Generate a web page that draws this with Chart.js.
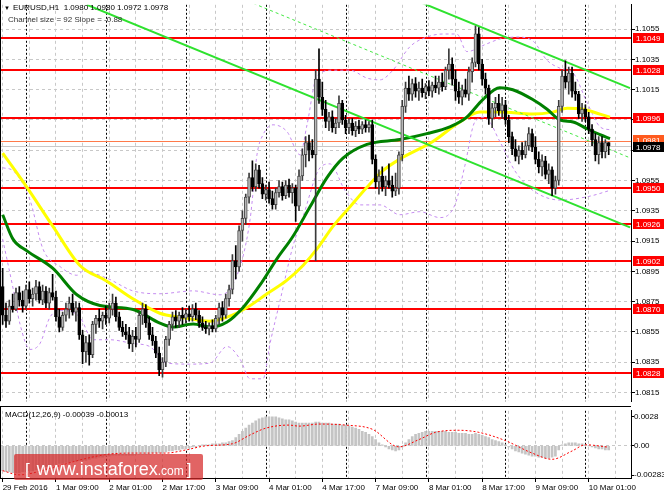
<!DOCTYPE html>
<html>
<head>
<meta charset="utf-8">
<title>EURUSD H1</title>
<script src="https://cdn.jsdelivr.net/npm/chart.js@4.4.1/dist/chart.umd.min.js"></script>
<style>
  html, body { margin: 0; padding: 0; background: #fff; }
  body { width: 664px; height: 498px; position: relative; overflow: hidden; }
  #main { position: absolute; left: 0; top: 0; }
  #macd { position: absolute; left: 0; top: 406px; }
  #wm {
    position: absolute; left: 14px; top: 454px; width: 189px; height: 26px;
    background: rgba(214, 40, 40, 0.72); border-radius: 2px;
    color: #fff; font-family: 'Liberation Sans', Arial, sans-serif;
    white-space: nowrap; line-height: 31px; padding-left: 11px; box-sizing: border-box;
  }
  #wm .br { font-size: 17px; }
  #wm .url { font-size: 18px; margin-left: 7px; }
  #wm .dom { font-size: 12px; }
  #wm .br2 { font-size: 17px; margin-left: 3px; }
</style>
</head>
<body>
<canvas id="main" width="664" height="406"></canvas>
<canvas id="macd" width="664" height="92"></canvas>
<div id="wm"><span class="br">[</span><span class="url">www.instaforex</span><span class="dom">.com</span><span class="br2">]</span></div>

<script>
// EURUSD H1 with MAs, bands, channel and MACD panel

// ---- data ----
const opens = [
  1.0885,1.0866,1.0862,1.0872,1.0870,1.0881,1.0876,1.0872,1.0883,1.0877,
  1.0880,1.0885,1.0876,1.0882,1.0874,1.0881,1.0878,1.0865,1.0858,1.0866,
  1.0870,1.0874,1.0868,1.0871,1.0853,1.0842,1.0848,1.0840,1.0860,1.0864,
  1.0862,1.0866,1.0864,1.0870,1.0874,1.0865,1.0858,1.0855,1.0853,1.0847,
  1.0852,1.0850,1.0866,1.0870,1.0861,1.0853,1.0849,1.0841,1.0830,1.0835,
  1.0850,1.0860,1.0865,1.0862,1.0866,1.0864,1.0867,1.0865,1.0870,1.0866,
  1.0861,1.0858,1.0857,1.0859,1.0857,1.0864,1.0871,1.0866,1.0877,1.0883,
  1.0902,1.0898,1.0922,1.0930,1.0944,1.0957,1.0951,1.0962,1.0953,1.0946,
  1.0949,1.0943,1.0939,1.0947,1.0951,1.0945,1.0952,1.0947,1.0950,1.0938,
  1.0958,1.0972,1.0980,1.0975,1.0972,1.1022,1.1010,1.1002,1.0994,1.0997,
  1.0990,1.0993,1.1006,1.0995,1.0990,1.0993,1.0988,1.0991,1.0989,1.0992,
  1.0990,1.0992,1.0969,1.0954,1.0958,1.0951,1.0955,1.0952,1.0948,1.0950,
  1.0972,1.1004,1.1016,1.1012,1.1019,1.1014,1.1016,1.1013,1.1017,1.1014,
  1.1018,1.1016,1.1020,1.1017,1.1028,1.1032,1.1022,1.1014,1.1010,1.1015,
  1.1012,1.1027,1.1033,1.1052,1.1032,1.1022,1.1016,1.0996,1.1003,1.1006,
  1.1001,1.1005,1.0995,1.0984,1.0976,1.0971,1.0975,1.0972,1.0978,1.0986,
  1.0977,1.0969,1.0964,1.0968,1.0959,1.0962,1.0950,1.0955,1.1004,1.1024,
  1.1020,1.1026,1.1014,1.1012,1.0999,1.1002,1.0997,1.0989,1.0982,1.0972,
  1.0980,1.0974,1.0980
];
const highs = [
  1.0897,1.0874,1.0876,1.0880,1.0884,1.0885,1.0882,1.0886,1.0888,1.0884,
  1.0889,1.0888,1.0886,1.0885,1.0884,1.0893,1.0882,1.0870,1.0868,1.0874,
  1.0878,1.0880,1.0875,1.0874,1.0856,1.0852,1.0853,1.0862,1.0866,1.0870,
  1.0868,1.0872,1.0874,1.0880,1.0878,1.0868,1.0862,1.0860,1.0858,1.0856,
  1.0858,1.0868,1.0874,1.0873,1.0865,1.0858,1.0852,1.0845,1.0838,1.0852,
  1.0862,1.0868,1.0869,1.0868,1.0871,1.0870,1.0872,1.0873,1.0874,1.0869,
  1.0865,1.0862,1.0861,1.0863,1.0866,1.0874,1.0875,1.0880,1.0886,1.0906,
  1.0912,1.0925,1.0935,1.0946,1.0960,1.0968,1.0966,1.0965,1.0957,1.0952,
  1.0954,1.0948,1.0950,1.0955,1.0954,1.0955,1.0956,1.0953,1.0952,1.0962,
  1.0976,1.0984,1.0985,1.0982,1.1028,1.1042,1.1020,1.1008,1.1000,1.1001,
  1.0996,1.1011,1.1008,1.0998,1.0996,1.0996,1.0994,1.0995,1.0994,1.0995,
  1.0994,1.0995,1.0972,1.0962,1.0964,1.0958,1.0966,1.0958,1.0960,1.0974,
  1.1008,1.1020,1.1024,1.1022,1.1023,1.1020,1.1022,1.1019,1.1021,1.1020,
  1.1024,1.1024,1.1026,1.1030,1.1042,1.1036,1.1028,1.1020,1.1018,1.1022,
  1.1030,1.1036,1.1057,1.1056,1.1035,1.1026,1.1018,1.1006,1.1010,1.1012,
  1.1010,1.1008,1.0998,1.0987,1.0982,1.0978,1.0980,1.0981,1.0990,1.0989,
  1.0984,1.0974,1.0972,1.0971,1.0966,1.0964,1.0958,1.1008,1.1028,1.1034,
  1.1030,1.1030,1.1020,1.1014,1.1006,1.1005,1.1000,1.0992,1.0986,1.0984,
  1.0984,1.0982,1.0980
];
const lows = [
  1.0860,1.0858,1.0860,1.0868,1.0869,1.0872,1.0868,1.0870,1.0874,1.0872,
  1.0876,1.0874,1.0873,1.0871,1.0870,1.0876,1.0862,1.0855,1.0856,1.0862,
  1.0864,1.0866,1.0862,1.0850,1.0834,1.0835,1.0833,1.0838,1.0854,1.0858,
  1.0857,1.0860,1.0861,1.0866,1.0862,1.0856,1.0852,1.0850,1.0844,1.0842,
  1.0845,1.0848,1.0860,1.0858,1.0850,1.0846,1.0838,1.0826,1.0825,1.0832,
  1.0846,1.0856,1.0858,1.0858,1.0860,1.0861,1.0862,1.0862,1.0863,1.0858,
  1.0856,1.0854,1.0853,1.0855,1.0855,1.0860,1.0862,1.0864,1.0872,1.0880,
  1.0890,1.0895,1.0915,1.0926,1.0940,1.0948,1.0948,1.0950,1.0943,1.0942,
  1.0940,1.0936,1.0936,1.0944,1.0942,1.0943,1.0944,1.0940,1.0928,1.0935,
  1.0955,1.0964,1.0968,1.0970,1.0902,1.1006,1.0998,1.0990,1.0988,1.0987,
  1.0986,1.0990,1.0992,1.0986,1.0986,1.0985,1.0984,1.0986,1.0986,1.0987,
  1.0987,1.0966,1.0950,1.0946,1.0948,1.0945,1.0950,1.0944,1.0945,1.0946,
  1.0968,1.1000,1.1008,1.1008,1.1010,1.1008,1.1010,1.1009,1.1011,1.1010,
  1.1013,1.1012,1.1014,1.1015,1.1022,1.1018,1.1008,1.1006,1.1005,1.1010,
  1.1008,1.1020,1.1030,1.1028,1.1018,1.1012,1.0992,1.0990,1.0997,1.0998,
  1.0996,1.0992,1.0980,1.0972,1.0968,1.0966,1.0969,1.0970,1.0975,1.0974,
  1.0966,1.0960,1.0958,1.0956,1.0953,1.0945,1.0946,1.0952,1.1000,1.1016,
  1.1012,1.1010,1.1008,1.0996,1.0994,1.0994,1.0986,1.0978,1.0968,1.0966,
  1.0970,1.0970,1.0972
];
const closes = [
  1.0866,1.0862,1.0872,1.0870,1.0881,1.0876,1.0872,1.0883,1.0877,1.0880,
  1.0885,1.0876,1.0882,1.0874,1.0881,1.0878,1.0865,1.0858,1.0866,1.0870,
  1.0874,1.0868,1.0871,1.0853,1.0842,1.0848,1.0840,1.0860,1.0864,1.0862,
  1.0866,1.0864,1.0870,1.0874,1.0865,1.0858,1.0855,1.0853,1.0847,1.0852,
  1.0850,1.0866,1.0870,1.0861,1.0853,1.0849,1.0841,1.0830,1.0835,1.0850,
  1.0860,1.0865,1.0862,1.0866,1.0864,1.0867,1.0865,1.0870,1.0866,1.0861,
  1.0858,1.0857,1.0859,1.0857,1.0864,1.0871,1.0866,1.0877,1.0883,1.0902,
  1.0898,1.0922,1.0930,1.0944,1.0957,1.0951,1.0962,1.0953,1.0946,1.0949,
  1.0943,1.0939,1.0947,1.0951,1.0945,1.0952,1.0947,1.0950,1.0938,1.0958,
  1.0972,1.0980,1.0975,1.0972,1.1022,1.1010,1.1002,1.0994,1.0997,1.0990,
  1.0993,1.1006,1.0995,1.0990,1.0993,1.0988,1.0991,1.0989,1.0992,1.0990,
  1.0992,1.0969,1.0954,1.0958,1.0951,1.0955,1.0952,1.0948,1.0950,1.0972,
  1.1004,1.1016,1.1012,1.1019,1.1014,1.1016,1.1013,1.1017,1.1014,1.1018,
  1.1016,1.1020,1.1017,1.1028,1.1032,1.1022,1.1014,1.1010,1.1015,1.1012,
  1.1027,1.1033,1.1052,1.1032,1.1022,1.1016,1.0996,1.1003,1.1006,1.1001,
  1.1005,1.0995,1.0984,1.0976,1.0971,1.0975,1.0972,1.0978,1.0986,1.0977,
  1.0969,1.0964,1.0968,1.0959,1.0962,1.0950,1.0955,1.1004,1.1024,1.1020,
  1.1026,1.1014,1.1012,1.0999,1.1002,1.0997,1.0989,1.0982,1.0972,1.0980,
  1.0974,1.0980,1.0978
];

// moving averages / bands as [bar, price] read at intervals
const yellowMA = [[0,1.09731],[7.3,1.09505],[15.1,1.09247],[23.2,1.08989],[31.3,1.08885],[39.1,1.08769],
  [47.2,1.08673],[53.3,1.08647],[62.3,1.08621],[67.4,1.08647],[73.4,1.08711],[79.4,1.08802],[85.4,1.08892],
  [90.2,1.08989],[94.4,1.09098],[99.2,1.09247],[104.3,1.09376],[109.4,1.09505],[114.2,1.09615],[119.3,1.09692],
  [129.2,1.09808],[137.3,1.09937],[143.3,1.10002],[149.3,1.10002],[159.2,1.09989],[165.2,1.10002],
  [169.5,1.10027],[174.3,1.10021],[179.4,1.09989],[182.4,1.09969]];
const greenMA = [[0,1.09324],[3.1,1.09163],[7.3,1.09085],[15.1,1.08969],[22.3,1.08795],[29.2,1.08724],
  [39.2,1.08698],[47.2,1.08608],[51.2,1.08582],[57.2,1.08602],[62.3,1.08582],[67.4,1.08615],[72.2,1.08711],
  [77.3,1.08860],[82.4,1.09034],[87.2,1.09182],[92.3,1.09376],[97.4,1.09569],[102.2,1.09698],[109.4,1.09789],
  [119.3,1.09821],[127.4,1.09860],[134.3,1.09905],[139.4,1.09969],[144.2,1.10085],[149.3,1.10163],
  [153.2,1.10150],[159.2,1.10085],[163.5,1.10021],[167.4,1.09950],[171.3,1.09937],[175.5,1.09892],
  [179.4,1.09853],[182.4,1.09827]];
const bandUpper = [[0,1.09634],[3.1,1.09615],[8.2,1.09421],[12.1,1.09098],[17.2,1.08982],[22.3,1.08924],
  [24.1,1.08950],[31.3,1.08905],[39.1,1.08821],[47.2,1.08802],[57.2,1.08821],[65.3,1.08795],[70.4,1.08924],
  [74.3,1.09292],[76.4,1.09724],[78.2,1.09853],[81.2,1.09918],[85.4,1.09873],[89.3,1.09720],[91.4,1.09918],
  [94.4,1.10240],[99.2,1.10279],[104.3,1.10279],[109.4,1.10227],[113.3,1.10215],[117.2,1.10279],
  [122.3,1.10434],[127.4,1.10498],[132.2,1.10518],[136.4,1.10518],[139.4,1.10402],[145.4,1.10453],
  [149.3,1.10485],[154.4,1.10498],[159.2,1.10473],[163.5,1.10344],[167.4,1.10292],[171.3,1.10260],
  [175.5,1.10066],[179.4,1.09905],[182.4,1.09885]];
const bandLower = [[0,1.09163],[3.1,1.08840],[5.2,1.08602],[8.2,1.08434],[11.2,1.08473],[14.2,1.08647],
  [17.2,1.08692],[23.2,1.08647],[27.1,1.08498],[32.2,1.08498],[39.1,1.08473],[44.2,1.08453],[49.3,1.08344],
  [56.2,1.08337],[62.3,1.08344],[67.4,1.08453],[71.3,1.08369],[74.3,1.08240],[78.2,1.08240],[80.3,1.08473],
  [83.3,1.08756],[87.2,1.09118],[90.2,1.09311],[95.3,1.09634],[98.3,1.09660],[102.8,1.09485],[107.3,1.09389],
  [113.3,1.09389],[119.3,1.09324],[125.3,1.09344],[131.3,1.09305],[135.8,1.09389],[138.8,1.09647],
  [141.8,1.09937],[144.8,1.09969],[149.3,1.09808],[153.8,1.09615],[159.2,1.09485],[167.4,1.09421],
  [176.4,1.09447],[182.4,1.09485]];

// regression channel, start and end bar
const channelBars = [25.3, 188.4];
const channelUpper = [1.11631, 1.1016];
const channelMiddle = [1.11171, 1.0970];
const channelLower = [1.10711, 1.0924];

// horizontal levels and price marks
const levels = [1.1049, 1.1028, 1.0996, 1.0950, 1.0926, 1.0902, 1.0870, 1.0828];
const askPrice = 1.0981;
const bidPrice = 1.0978;
const priceTicks = [1.0815, 1.0835, 1.0855, 1.0875, 1.0895, 1.0915, 1.0935, 1.0955,
  1.0975, 1.0995, 1.1015, 1.1035, 1.1055];

// time axis: a label every 16 bars, day separators
const timeLabels = ['29 Feb 2016', '1 Mar 09:00', '2 Mar 01:00', '2 Mar 17:00', '3 Mar 09:00',
  '4 Mar 01:00', '4 Mar 17:00', '7 Mar 09:00', '8 Mar 01:00', '8 Mar 17:00', '9 Mar 09:00', '10 Mar 01:00'];
const daySeparators = [7, 31, 55, 79, 103, 127, 151, 175];

// MACD(12,26,9)
const macdHist = [
  -0.0024,-0.0025,-0.0025,-0.0026,-0.0026,-0.0026,-0.0025,-0.0025,-0.0024,-0.0024,
  -0.0023,-0.0022,-0.0021,-0.0020,-0.0019,-0.0019,-0.0018,-0.0017,-0.0017,-0.0016,
  -0.0016,-0.0015,-0.0015,-0.0014,-0.0014,-0.0014,-0.0013,-0.0012,-0.0012,-0.0011,
  -0.0011,-0.0010,-0.0010,-0.0009,-0.0009,-0.0009,-0.0009,-0.0009,-0.0009,-0.0009,
  -0.0008,-0.0008,-0.0008,-0.0008,-0.0008,-0.0007,-0.0007,-0.0007,-0.0007,-0.0006,
  -0.0005,-0.0005,-0.0004,-0.0004,-0.0003,-0.0003,-0.0002,-0.0001,-0.0001,0.0000,
  0.0001,0.0001,0.0001,0.0002,0.0002,0.0002,0.0003,0.0003,0.0004,0.0005,
  0.0008,0.0011,0.0014,0.0017,0.0020,0.0022,0.0024,0.0026,0.0027,0.0028,
  0.0028,0.0028,0.0028,0.0027,0.0026,0.0025,0.0025,0.0024,0.0023,0.0022,
  0.0022,0.0022,0.0022,0.0022,0.0023,0.0023,0.0022,0.0022,0.0022,0.0021,
  0.0021,0.0021,0.0020,0.0020,0.0019,0.0018,0.0017,0.0016,0.0014,0.0013,
  0.0011,0.0009,0.0006,0.0003,0.0001,-0.0001,-0.0003,-0.0004,-0.0005,-0.0004,
  -0.0001,0.0003,0.0006,0.0009,0.0011,0.0012,0.0013,0.0014,0.0014,0.0014,
  0.0014,0.0014,0.0014,0.0014,0.0013,0.0013,0.0013,0.0012,0.0012,0.0012,
  0.0011,0.0011,0.0012,0.0011,0.0010,0.0009,0.0008,0.0006,0.0005,0.0004,
  0.0003,0.0001,-0.0001,-0.0003,-0.0005,-0.0006,-0.0007,-0.0008,-0.0009,-0.0010,
  -0.0010,-0.0011,-0.0011,-0.0012,-0.0012,-0.0011,-0.0010,-0.0004,0.0001,0.0002,
  0.0003,0.0003,0.0003,0.0002,0.0002,0.0001,0.0000,-0.0001,-0.0002,-0.0003,
  -0.0003,-0.0004,-0.00039
];
const macdSignal = [[0,-0.0024],[5,-0.0028],[15,-0.0021],[24,-0.0013],[32,-0.0008],[39,-0.0007],
  [49,-0.0007],[55,-0.0004],[61,0.0],[69,0.0002],[74,0.0010],[79,0.0017],[86,0.0020],[89,0.0019],
  [95,0.0021],[103,0.0020],[111,0.0016],[119,-0.0001],[125,0.0006],[130,0.0013],[137,0.0015],
  [143,0.0013],[151,0.0005],[159,-0.0007],[165,-0.0013],[171,-0.0005],[175,0.0001],[182,-0.00013]];
const macdTickValues = [-0.00283, 0, 0.00283];
const macdTickLabels = ['-0.00283', '0.00', '0.0028'];

// ---- layout ----
const FONT = "'Liberation Sans', Arial, sans-serif";
const X_MIN = -0.8, X_MAX = 188.7;          // leaves the MT4 chart shift on the right
const P_MIN = 1.08092, P_MAX = 1.10711;
const MACD_MIN = -0.003104, MACD_MAX = 0.003378;
const AXIS_W = 33;

const barIdx = closes.map((c, i) => i);
const isUp = i => closes[i] >= opens[i];
const pairs = arr => arr.map(p => ({ x: p[0], y: p[1] }));
const seg = (ys) => [{ x: channelBars[0], y: ys[0] }, { x: channelBars[1], y: ys[1] }];

const gridBars = [];
for (let b = 0; b <= X_MAX; b += 8) gridBars.push(b);

function drawSeparators(chart) {
  const { ctx, chartArea: a, scales: { x } } = chart;
  ctx.save();
  ctx.strokeStyle = '#000';
  ctx.lineWidth = 1;
  ctx.setLineDash([2, 2]);
  daySeparators.forEach(b => {
    const px = Math.round(x.getPixelForValue(b)) + 0.5;
    ctx.beginPath();
    ctx.moveTo(px, a.top);
    ctx.lineTo(px, a.bottom);
    ctx.stroke();
  });
  ctx.restore();
}

// red levels, bid/ask lines, tags, header
const mainDecor = {
  id: 'mainDecor',
  beforeDatasetsDraw(chart) {
    const { ctx, chartArea: a, scales: { y } } = chart;
    drawSeparators(chart);
    const hline = (v, color, w) => {
      const py = Math.round(y.getPixelForValue(v)) + (w % 2 ? 0.5 : 0);
      ctx.strokeStyle = color;
      ctx.lineWidth = w;
      ctx.beginPath();
      ctx.moveTo(a.left, py);
      ctx.lineTo(a.right, py);
      ctx.stroke();
    };
    ctx.save();
    hline(bidPrice, '#c8c8c8', 1);
    hline(askPrice, '#ff7a4a', 1);
    levels.forEach(v => hline(v, '#ff0000', 2));
    ctx.restore();
  },
  afterDraw(chart) {
    const { ctx, chartArea: a, scales: { y }, width } = chart;
    ctx.save();
    // frame
    ctx.fillStyle = '#000';
    ctx.fillRect(0, 0, 1, a.bottom);
    // price tags on the axis
    ctx.font = '8px ' + FONT;
    ctx.textBaseline = 'middle';
    const tag = (v, bg, dy) => {
      const py = Math.round(y.getPixelForValue(v)) + dy;
      ctx.fillStyle = bg;
      ctx.fillRect(a.right + 2, py - 5, width - a.right - 2, 10);
      ctx.fillStyle = '#fff';
      ctx.fillText(v.toFixed(4), a.right + 5, py + 0.5);
    };
    levels.forEach(v => tag(v, '#ff0000', 0));
    tag(askPrice, '#ff5a1e', -1);
    tag(bidPrice, '#000000', 1);
    // header
    const last = closes.length - 1;
    ctx.fillStyle = '#000';
    ctx.font = '6px ' + FONT;
    ctx.fillText('\u25BC', 4, 8);
    ctx.font = '8px ' + FONT;
    ctx.fillText('EURUSD,H1  ' + [opens[last], highs[last], lows[last], closes[last]]
      .map(v => v.toFixed(4)).join(' '), 13, 8);
    ctx.fillStyle = '#333';
    ctx.fillText('Channel size = 92 Slope = -0.88', 8, 19.5);
    ctx.restore();
  }
};

const lineDs = (data, color, width, order, dash) => ({
  type: 'line', data, borderColor: color, borderWidth: width, borderDash: dash || [],
  pointRadius: 0, cubicInterpolationMode: 'monotone', fill: false, order
});

new Chart(document.getElementById('main'), {
  type: 'bar',
  data: {
    datasets: [
      lineDs(pairs(bandUpper), '#c58cf0', 1, 9, [3, 3]),
      lineDs(pairs(bandLower), '#c58cf0', 1, 9, [3, 3]),
      lineDs(pairs(yellowMA), '#ffff00', 3, 8),
      lineDs(pairs(greenMA), '#008000', 3, 7),
      lineDs(seg(channelMiddle), '#44e844', 1, 6, [3, 3]),
      lineDs(seg(channelLower), '#2ee22e', 2, 6),
      lineDs(seg(channelUpper), '#2ee22e', 2, 6),
      {
        type: 'bar',
        data: barIdx.map(i => ({ x: i, y: [lows[i], highs[i]] })),
        backgroundColor: barIdx.map(i => isUp(i) ? '#3a3a3a' : '#000000'),
        barThickness: 1, grouped: false, order: 2
      },
      {
        type: 'bar',
        data: barIdx.map(i => ({ x: i, y: [opens[i], closes[i]] })),
        backgroundColor: barIdx.map(i => isUp(i) ? '#b8b8b8' : '#000000'),
        borderColor: barIdx.map(i => isUp(i) ? '#4a4a4a' : '#000000'),
        borderWidth: 1, borderSkipped: false, minBarLength: 1,
        barThickness: 3, grouped: false, order: 1
      }
    ]
  },
  options: {
    responsive: false,
    animation: false,
    events: [],
    layout: { padding: 0 },
    plugins: { legend: { display: false }, tooltip: { enabled: false } },
    scales: {
      x: {
        type: 'linear', min: X_MIN, max: X_MAX, offset: false, bounds: 'data',
        grid: { color: '#c8c8c8', drawTicks: false, offset: false },
        border: { display: false, dash: [3, 3] },
        ticks: { display: false },
        afterBuildTicks: s => { s.ticks = gridBars.map(v => ({ value: v })); },
        afterFit: s => { s.height = 0; }
      },
      y: {
        type: 'linear', position: 'right', min: P_MIN, max: P_MAX, bounds: 'data', beginAtZero: false,
        grid: { color: '#c8c8c8', tickColor: '#000', tickLength: 4 },
        border: { display: true, color: '#000', dash: [3, 3] },
        ticks: {
          color: '#000', font: { family: FONT, size: 8 }, padding: 0, autoSkip: false,
          callback: v => Number(v).toFixed(4)
        },
        afterBuildTicks: s => { s.ticks = priceTicks.map(v => ({ value: v })); },
        afterFit: s => { s.width = AXIS_W; }
      }
    }
  },
  plugins: [mainDecor]
});

// MACD panel
const macdDecor = {
  id: 'macdDecor',
  beforeDatasetsDraw(chart) { drawSeparators(chart); },
  afterDraw(chart) {
    const { ctx, chartArea: a } = chart;
    ctx.save();
    ctx.fillStyle = '#000';
    ctx.fillRect(0, 0, a.right, 1);
    ctx.fillRect(0, 0, 1, a.bottom);
    ctx.font = '8px ' + FONT;
    ctx.textBaseline = 'middle';
    ctx.fillText('MACD(12,26,9) -0.00039 -0.00013', 5, 9);
    ctx.restore();
  }
};

new Chart(document.getElementById('macd'), {
  type: 'bar',
  data: {
    datasets: [
      lineDs(pairs(macdSignal), '#ff0000', 1, 0, [2, 2]),
      {
        type: 'bar',
        data: barIdx.map(i => ({ x: i, y: macdHist[i] })),
        backgroundColor: '#c4c4c4',
        barThickness: 2, grouped: false, order: 1
      }
    ]
  },
  options: {
    responsive: false,
    animation: false,
    events: [],
    layout: { padding: { top: 1 } },
    plugins: { legend: { display: false }, tooltip: { enabled: false } },
    scales: {
      x: {
        type: 'linear', min: X_MIN, max: X_MAX, offset: false, bounds: 'data',
        grid: {
          color: '#c8c8c8', offset: false, tickLength: 4,
          tickColor: c => (c.tick && c.tick.value % 16 === 0) ? '#000' : 'rgba(0,0,0,0)'
        },
        border: { display: true, color: '#000', dash: [3, 3] },
        ticks: {
          autoSkip: false, maxRotation: 0, minRotation: 0, align: 'start', padding: 1,
          color: '#000', font: { family: FONT, size: 8 },
          callback: v => (v % 16 === 0 && timeLabels[v / 16]) ? timeLabels[v / 16] : ''
        },
        afterBuildTicks: s => { s.ticks = gridBars.map(v => ({ value: v })); },
        afterFit: s => { s.height = 20; }
      },
      y: {
        type: 'linear', position: 'right', min: MACD_MIN, max: MACD_MAX, bounds: 'data', beginAtZero: false,
        grid: {
          color: c => (c.tick && c.tick.value === 0) ? '#c8c8c8' : 'rgba(0,0,0,0)',
          tickColor: '#000', tickLength: 3
        },
        border: { display: true, color: '#000', dash: [3, 3] },
        ticks: {
          autoSkip: false, color: '#000', font: { family: FONT, size: 8 }, padding: 0,
          callback: (v, i) => macdTickLabels[i]
        },
        afterBuildTicks: s => { s.ticks = macdTickValues.map(v => ({ value: v })); },
        afterFit: s => { s.width = AXIS_W; }
      }
    }
  },
  plugins: [macdDecor]
});
</script>
</body>
</html>
